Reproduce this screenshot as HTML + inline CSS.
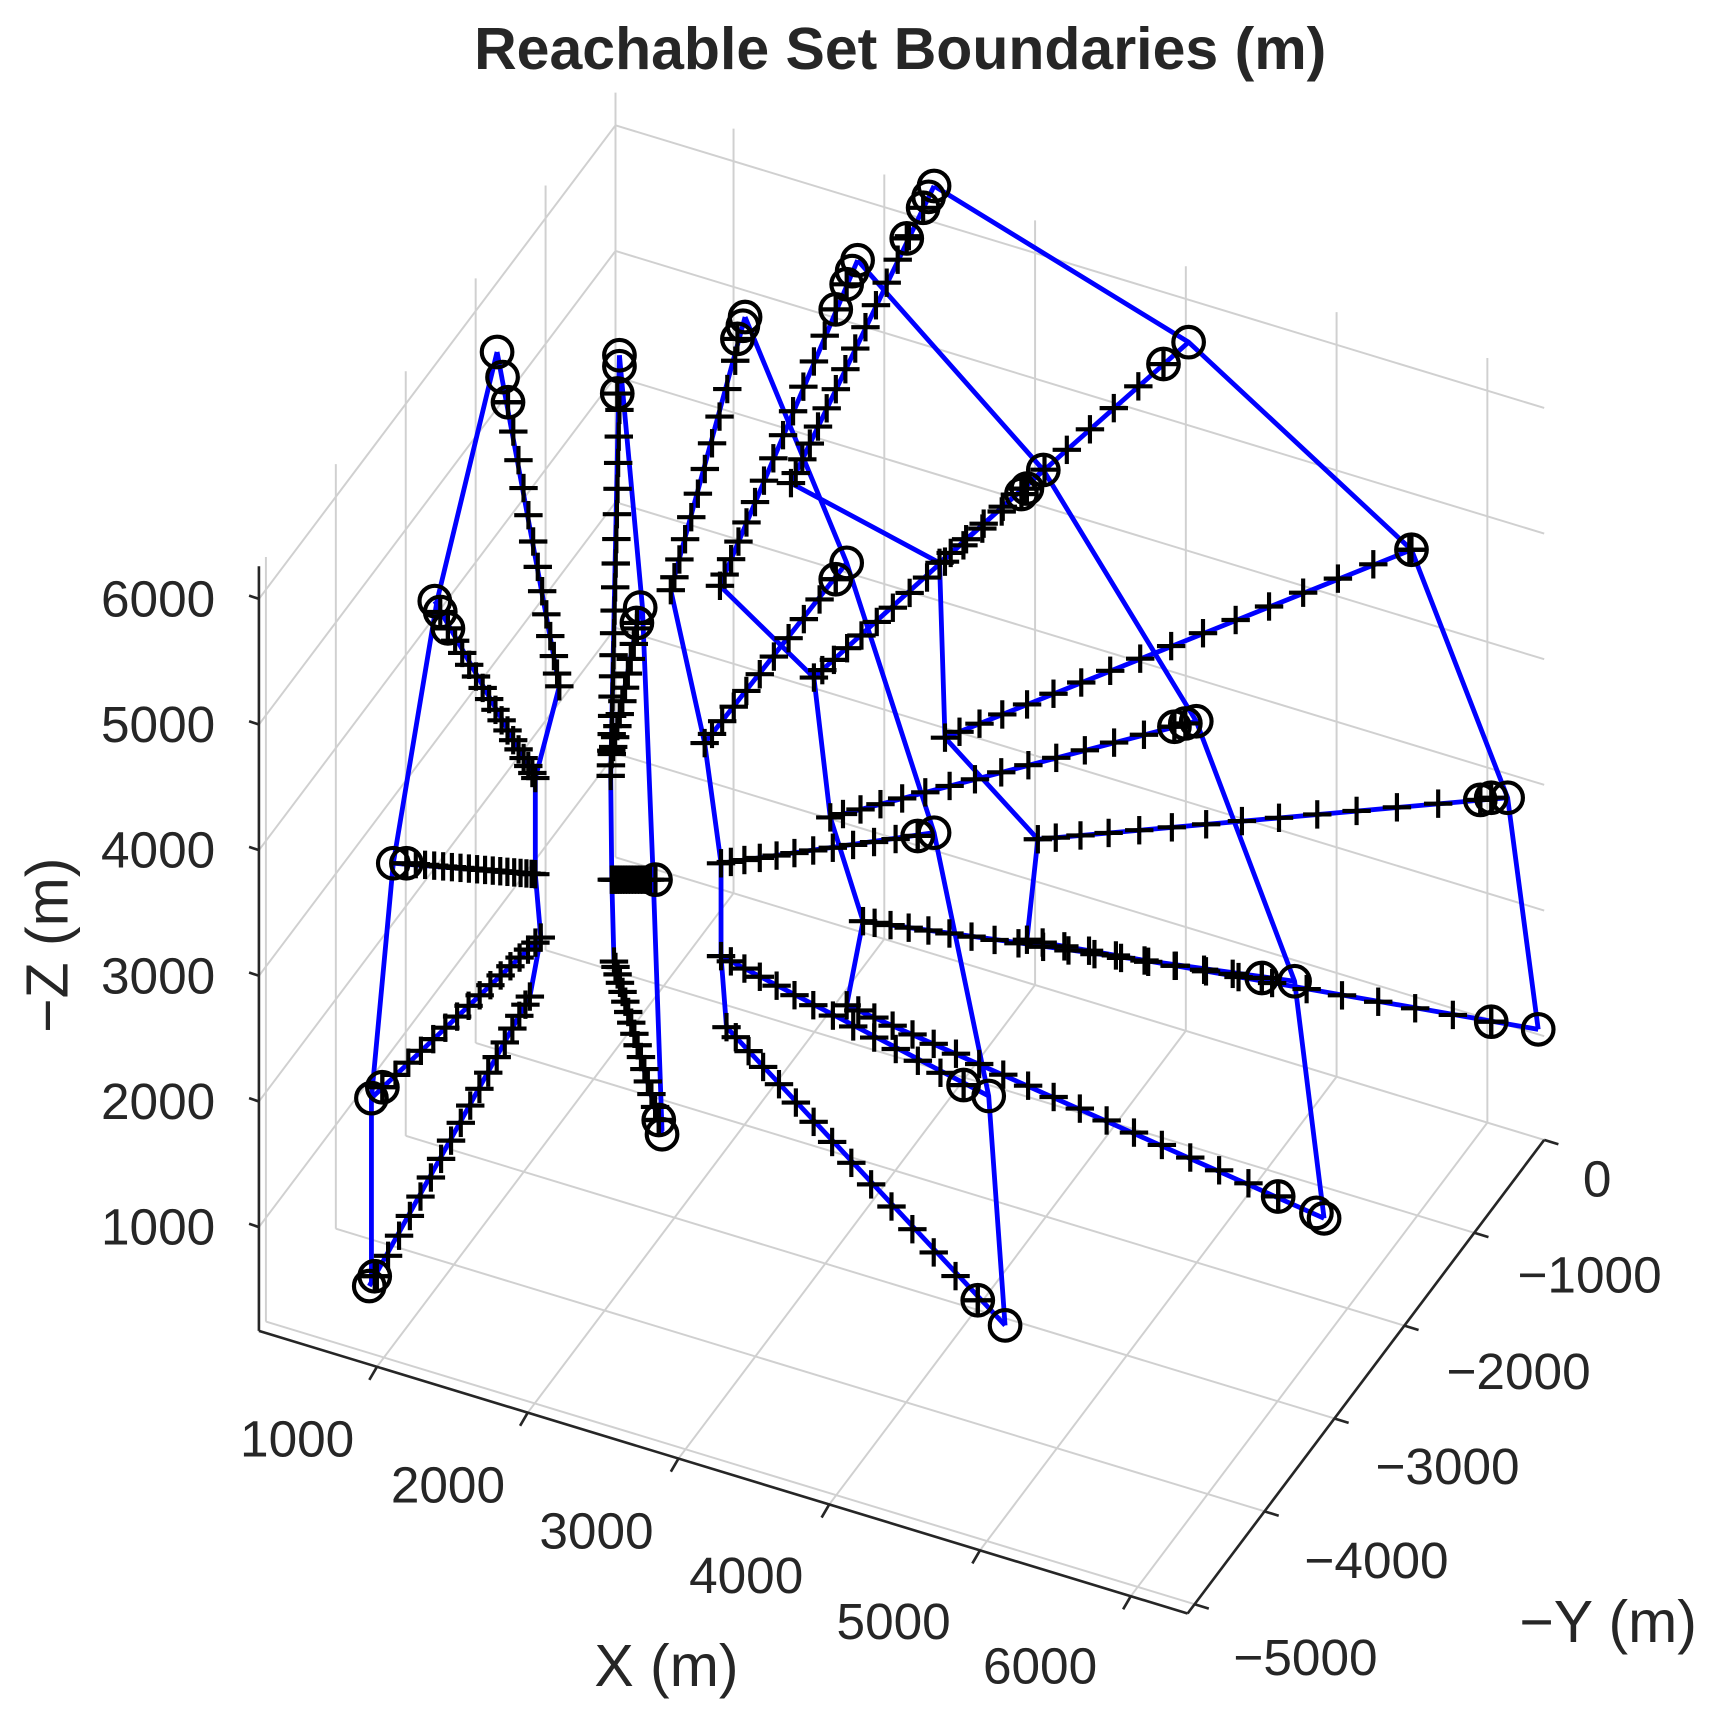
<!DOCTYPE html>
<html><head><meta charset="utf-8"><style>
html,body{margin:0;padding:0;background:#fff;}
svg{display:block;}
text{font-family:"Liberation Sans",Arial,sans-serif;fill:#262626;}
</style></head><body>
<svg id="s" width="1713" height="1720" viewBox="0 0 1568 1574" xmlns="http://www.w3.org/2000/svg">
<rect width="1568" height="1574" fill="#fff"/>
<g id="grid" stroke="#d0d0d0" stroke-width="1.8" fill="none"></g>
<g id="axes" stroke="#262626" stroke-width="2.4" fill="none"></g>
<g id="data"></g>
<text x="824" y="63" font-size="54" font-weight="bold" text-anchor="middle">Reachable Set Boundaries (m)</text>
<g font-size="47" text-anchor="end">
<text x="197" y="564">6000</text>
<text x="197" y="679">5000</text>
<text x="197" y="794">4000</text>
<text x="197" y="909">3000</text>
<text x="197" y="1024">2000</text>
<text x="197" y="1139">1000</text>
</g>
<g font-size="47" text-anchor="middle">
<text x="272" y="1333">1000</text>
<text x="410" y="1375">2000</text>
<text x="546" y="1417">3000</text>
<text x="683" y="1458">4000</text>
<text x="818" y="1500">5000</text>
<text x="952" y="1541">6000</text>
<text x="1462" y="1095">0</text>
<text x="1455" y="1183">−1000</text>
<text x="1390" y="1271">−2000</text>
<text x="1325" y="1358">−3000</text>
<text x="1260" y="1444">−4000</text>
<text x="1195" y="1533">−5000</text>
</g>
<text x="610" y="1543" font-size="54" text-anchor="middle">X (m)</text>
<text x="1472" y="1503" font-size="54" text-anchor="middle">−Y (m)</text>
<text transform="translate(62,865) rotate(-90)" font-size="54" text-anchor="middle">−Z (m)</text>
</svg>
<script>
var NS="http://www.w3.org/2000/svg";
function el(p,t,a){var e=document.createElementNS(NS,t);for(var k in a)e.setAttribute(k,a[k]);p.appendChild(e);return e;}
var xmin=217,xmax=6377,ymin=-5100,ymax=0,zmin=174,zmax=6260;
function P(X,Y,Z){var a=(X-xmin)/1000,b=(Y-ymin)/1000,c=(Z-zmin)/1000;return [237+a*138+b*64,1218+a*42-b*85-c*115];}
var g=document.getElementById('grid'),ax=document.getElementById('axes');
function L(p,A,B){el(p,'line',{x1:A[0],y1:A[1],x2:B[0],y2:B[1]});}
var Xt=[1000,2000,3000,4000,5000,6000],Yt=[-5000,-4000,-3000,-2000,-1000,0],Zt=[1000,2000,3000,4000,5000,6000];
Xt.forEach(function(x){L(g,P(x,ymax,zmin),P(x,ymax,zmax));});
Zt.forEach(function(z){L(g,P(xmin,ymax,z),P(xmax,ymax,z));});
Yt.forEach(function(y){L(g,P(xmin,y,zmin),P(xmin,y,zmax));});
Zt.forEach(function(z){L(g,P(xmin,ymin,z),P(xmin,ymax,z));});
Xt.forEach(function(x){L(g,P(x,ymin,zmin),P(x,ymax,zmin));});
Yt.forEach(function(y){L(g,P(xmin,y,zmin),P(xmax,y,zmin));});
L(ax,P(xmin,ymin,zmin),P(xmin,ymin,zmax));
L(ax,P(xmin,ymin,zmin),P(xmax,ymin,zmin));
L(ax,P(xmax,ymin,zmin),P(xmax,ymax,zmin));
Zt.forEach(function(z){var A=P(xmin,ymin,z);L(ax,A,[A[0]-9,A[1]-3]);});
Xt.forEach(function(x){var A=P(x,ymin,zmin);L(ax,A,[A[0]-7,A[1]+12]);});
Yt.forEach(function(y){var A=P(xmax,y,zmin);L(ax,A,[A[0]+13,A[1]+4]);});
var d=document.getElementById('data');
var blue=el(d,'g',{stroke:'#0000ff','stroke-width':4.4,fill:'none'});
var blk=el(d,'g',{stroke:'#000','stroke-width':3.8,fill:'none'});
function poly(pts){el(blue,'polyline',{points:pts.map(function(p){return p.join(',');}).join(' ')});}
function plus(x,y,s){s=s||13;L(blk,[x-s,y],[x+s,y]);L(blk,[x,y-s],[x,y+s]);}
function circ(x,y,pl){el(blk,'circle',{cx:x,cy:y,r:14});if(pl)plus(x,y,14);}
var rays=[
 [[512,628],[465,368],12,[[465,368,1],[460,345,0],[455,322,0]]],
 [[490,712],[410,575],15,[[410,575,1],[403,560,1],[398,550,0]]],
 [[490,800],[372,790],17,[[372,790,1],[360,790,0]]],
 [[495,858],[350,995],15,[[350,995,1],[340,1005,0]]],
 [[485,912],[345,1168],17,[[343,1168,1],[338,1177,0]]],
 [[559,710],[567,375],17,[[565,360,1],[567,335,0],[567,325,0]]],
 [[560,690],[583,575],10,[[583,570,1],[586,556,0]]],
 [[560,805],[595,805],14,[[600,805,1]]],
 [[562,880],[603,1025],15,[[603,1025,1],[606,1038,0]]],
 [[614,540],[673,330],10,[[675,310,1],[680,298,0],[682,290,0]]],
 [[659,536],[765,283],13,[[765,283,1],[775,260,1],[780,248,0],[785,238,0]]],
 [[724,442],[832,216],13,[[830,218,1],[845,190,1],[850,180,0],[855,170,0]]],
 [[645,680],[765,530],10,[[765,530,1],[775,515,0]]],
 [[660,790],[840,765],11,[[840,765,1],[855,762,0]]],
 [[660,875],[882,993],13,[[882,993,1],[905,1003,0]]],
 [[665,940],[895,1190],14,[[895,1190,1],[920,1213,0]]],
 [[745,620],[935,452],13,[[935,452,1],[940,447,1],[955,430,0]]],
 [[760,748],[1075,665],14,[[1075,665,1],[1085,662,1],[1095,660,0]]],
 [[790,843],[1155,895],17,[[1155,895,1],[1185,898,0]]],
 [[775,920],[1170,1095],18,[[1170,1095,1],[1205,1110,0],[1212,1115,0]]],
 [[860,515],[1065,333],11,[[1065,333,1],[1088,313,0]]],
 [[865,675],[1290,503],16,[[1292,503,1]]],
 [[950,768],[1355,732],13,[[1355,732,1],[1365,730,1],[1380,730,0]]],
 [[940,860],[1365,935],15,[[1365,935,1],[1408,942,0]]]
];
poly([[455,322],[400,550],[360,790],[340,1005],[340,1175]]);
poly([[512,628],[490,712],[490,800],[495,858],[485,912]]);
poly([[567,325],[588,555],[598,805],[606,1035]]);
poly([[559,710],[560,805],[562,880]]);
poly([[682,290],[775,515],[855,762],[905,1003],[920,1213]]);
poly([[614,540],[645,680],[660,790],[660,875],[665,940]]);
poly([[785,238],[955,430],[1095,660],[1185,898],[1212,1115]]);
poly([[659,536],[745,620],[760,748],[790,843],[775,920]]);
poly([[855,170],[1088,313],[1292,503],[1380,730],[1408,942]]);
poly([[724,442],[860,515],[865,675],[950,768],[940,860]]);
rays.forEach(function(r){
 var A=r[0],B=r[1],n=r[2],c=r[3];
 var last=c[c.length-1];
 poly([A,[last[0],last[1]]]);
 for(var i=0;i<=n;i++){var t=Math.pow(i/n,1.25);plus(A[0]+(B[0]-A[0])*t,A[1]+(B[1]-A[1])*t);}
 c.forEach(function(q){circ(q[0],q[1],q[2]);});
});
</script>
</body></html>
